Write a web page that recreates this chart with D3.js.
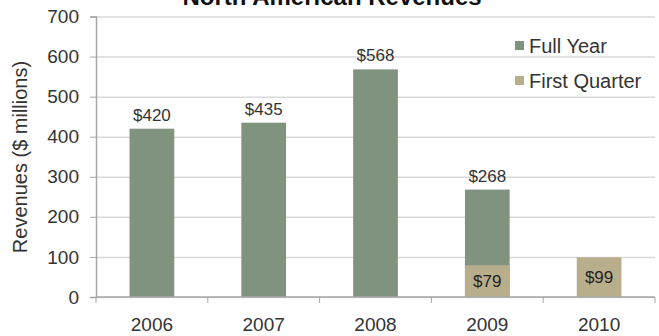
<!DOCTYPE html>
<html>
<head>
<meta charset="utf-8">
<script src="https://cdn.jsdelivr.net/npm/d3@7.9.0/dist/d3.min.js"></script>
<style>
  body { margin: 0; background: #fff; }
  svg text { font-family: "Liberation Sans", Arial, sans-serif; fill: #333; }
</style>
</head>
<body>
<div id="chart"></div>
<script>
// data
const years = ['2006', '2007', '2008', '2009', '2010'];
const fullYear = [420, 435, 568, 268, null];
const firstQuarter = [null, null, null, 79, 99];
const yTicks = [0, 100, 200, 300, 400, 500, 600, 700];
const seriesNames = ['Full Year', 'First Quarter'];

const width = 659;
const height = 336;
const margin = { top: 16.5, right: 4, bottom: 39, left: 96 };

const colors = { full: '#7f937f', q1: '#b9ae8c' };

const svg = d3.select('#chart')
    .append('svg')
    .attr('width', width)
    .attr('height', height);

const xScale = d3.scaleBand()
    .domain(years)
    .range([margin.left, width - margin.right])
    .paddingInner(0.6)
    .paddingOuter(0.3);

const yScale = d3.scaleLinear()
    .domain([0, 700])
    .range([height - margin.bottom, margin.top]);

// gridlines
svg.append('g')
    .attr('class', 'gridlines')
    .attr('transform', `translate(${margin.left}, 0)`)
    .call(d3.axisLeft(yScale).tickValues(yTicks).tickFormat('').tickSize(-(width - margin.right - margin.left)))
    .call(g => g.select('.domain').remove())
    .call(g => g.selectAll('line').attr('stroke', '#d9d9d9').attr('stroke-width', 1.5));

// full year bars
svg.append('g')
    .selectAll('rect')
    .data(years.map((y, i) => ({ year: y, v: fullYear[i] })).filter(d => d.v != null))
    .enter()
    .append('rect')
    .attr('x', d => xScale(d.year))
    .attr('y', d => yScale(d.v))
    .attr('width', xScale.bandwidth())
    .attr('height', d => yScale(0) - yScale(d.v))
    .attr('fill', colors.full);

// first quarter bars (drawn over the full year)
const q1 = years.map((y, i) => ({ year: y, v: firstQuarter[i] })).filter(d => d.v != null);
svg.append('g')
    .selectAll('rect')
    .data(q1)
    .enter()
    .append('rect')
    .attr('x', d => xScale(d.year))
    .attr('y', d => yScale(d.v))
    .attr('width', xScale.bandwidth())
    .attr('height', d => yScale(0) - yScale(d.v))
    .attr('fill', colors.q1);

// value labels
svg.append('g')
    .selectAll('text')
    .data(years.map((y, i) => ({ year: y, v: fullYear[i] })).filter(d => d.v != null))
    .enter()
    .append('text')
    .attr('x', d => xScale(d.year) + xScale.bandwidth() / 2)
    .attr('y', d => yScale(d.v) - 8)
    .attr('text-anchor', 'middle')
    .attr('font-size', '17px')
    .text(d => `$${d.v}`);

svg.append('g')
    .selectAll('text')
    .data(q1)
    .enter()
    .append('text')
    .attr('x', d => xScale(d.year) + xScale.bandwidth() / 2)
    .attr('y', d => (yScale(d.v) + yScale(0)) / 2)
    .attr('dy', '0.36em')
    .attr('text-anchor', 'middle')
    .attr('font-size', '17px')
    .style('fill', '#222')
    .text(d => `$${d.v}`);

// x axis
const step = xScale.step();
const xAxis = svg.append('g')
    .attr('transform', `translate(0, ${yScale(0)})`);
xAxis.append('line')
    .attr('x1', margin.left).attr('x2', width - margin.right)
    .attr('stroke', '#a6a6a6').attr('stroke-width', 1.5);
xAxis.selectAll('.tick-mark')
    .data(d3.range(years.length + 1))
    .enter()
    .append('line')
    .attr('x1', i => margin.left + i * step)
    .attr('x2', i => margin.left + i * step)
    .attr('y1', 0).attr('y2', 6)
    .attr('stroke', '#a6a6a6');
xAxis.selectAll('text')
    .data(years)
    .enter()
    .append('text')
    .attr('x', d => xScale(d) + xScale.bandwidth() / 2)
    .attr('y', 34)
    .attr('text-anchor', 'middle')
    .attr('font-size', '19px')
    .text(d => d);

// y axis
svg.append('g')
    .attr('transform', `translate(${margin.left}, 0)`)
    .call(d3.axisLeft(yScale).tickValues(yTicks).tickSize(6).tickPadding(11))
    .call(g => g.select('.domain').attr('stroke', '#a6a6a6').attr('stroke-width', 1.5))
    .call(g => g.selectAll('line').attr('stroke', '#a6a6a6'))
    .call(g => g.selectAll('text').attr('font-size', '19px').attr('font-family', null).style('fill', '#333'));

svg.append('text')
    .attr('transform', 'rotate(-90)')
    .attr('x', -157)
    .attr('y', 27)
    .attr('text-anchor', 'middle')
    .attr('font-size', '20px')
    .text('Revenues ($ millions)');

// title (cut off at top, as in the source)
svg.append('text')
    .attr('x', 332)
    .attr('y', 5)
    .attr('text-anchor', 'middle')
    .attr('font-size', '24px')
    .attr('font-weight', 'bold')
    .style('fill', '#111')
    .text('North American Revenues');

// legend
const legend = svg.append('g')
    .attr('transform', 'translate(515, 46)');
const legendItem = legend.selectAll('.legend-item')
    .data(seriesNames)
    .enter()
    .append('g')
    .attr('class', 'legend-item')
    .attr('transform', (d, i) => `translate(0, ${i * 35})`);
legendItem.append('rect')
    .attr('x', 0).attr('y', -5)
    .attr('width', 9).attr('height', 9)
    .attr('fill', (d, i) => i === 0 ? colors.full : colors.q1);
legendItem.append('text')
    .attr('x', 14)
    .attr('y', 0)
    .attr('dy', '0.35em')
    .attr('font-size', '20px')
    .text(d => d);
</script>
</body>
</html>
